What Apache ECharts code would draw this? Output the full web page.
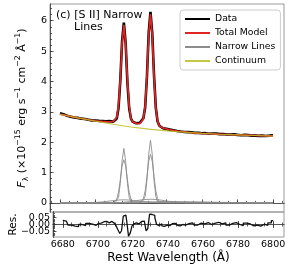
<!DOCTYPE html>
<html><head><meta charset="utf-8">
<script src="https://cdn.jsdelivr.net/npm/echarts@6/dist/echarts.min.js"></script>
<style>html,body{margin:0;padding:0;background:#fff}#c{width:291px;height:271px}</style>
</head><body><div id="c"></div>
<script>
// ---- data ----
const wave = [6680,6682,6684,6686,6688,6690,6692,6694,6696,6698,
  6700,6701,6702,6703,6704,6705,6706,6707,6708,6709,
  6710,6711,6712,6713,6714,6715,6716,6717,6718,6719,
  6720,6721,6722,6723,6724,6725,6726,6727,6728,6729,
  6730,6731,6732,6733,6734,6735,6736,6737,6738,6739,
  6740,6741,6742,6743,6744,6745,6746,6747,6748,6749,
  6750,6752,6754,6756,6758,6760,6762,6764,6766,6768,
  6770,6772,6774,6776,6778,6780,6782,6784,6786,6788,
  6790,6792,6794,6796,6798,6800];
const dataFlux = [2.950,2.921,2.867,2.838,2.812,2.800,2.774,2.763,2.740,2.717,
  2.712,2.709,2.702,2.705,2.698,2.700,2.689,2.692,2.693,2.679,
  2.675,2.691,2.778,3.136,4.028,5.324,5.935,5.276,3.971,3.116,
  2.776,2.668,2.641,2.625,2.630,2.635,2.663,2.785,3.149,4.154,
  5.614,6.293,5.584,4.193,3.132,2.678,2.540,2.480,2.457,2.446,
  2.437,2.415,2.413,2.395,2.392,2.372,2.370,2.350,2.351,2.351,
  2.334,2.331,2.326,2.305,2.306,2.294,2.296,2.278,2.280,2.281,
  2.265,2.266,2.250,2.254,2.256,2.240,2.230,2.240,2.232,2.216,
  2.216,2.206,2.214,2.204,2.214,2.228];
const modelFlux = [2.920,2.896,2.872,2.848,2.824,2.800,2.779,2.758,2.738,2.720,
  2.704,2.697,2.692,2.687,2.683,2.680,2.677,2.674,2.673,2.671,
  2.675,2.701,2.818,3.201,4.073,5.264,5.867,5.256,4.056,3.176,
  2.786,2.663,2.631,2.620,2.615,2.615,2.641,2.767,3.194,4.184,
  5.539,6.221,5.519,4.143,3.132,2.683,2.535,2.488,2.467,2.451,
  2.435,2.421,2.409,2.397,2.386,2.376,2.367,2.358,2.351,2.344,
  2.337,2.326,2.316,2.307,2.298,2.290,2.284,2.278,2.272,2.266,
  2.260,2.256,2.252,2.248,2.244,2.240,2.236,2.232,2.228,2.224,
  2.220,2.216,2.212,2.208,2.204,2.200];
const residual = [0.030,0.025,-0.005,-0.012,-0.015,0.000,-0.008,0.008,0.002,-0.006,
  0.008,0.015,0.010,0.020,0.015,0.022,0.012,0.020,0.022,0.008,
  0.000,-0.012,-0.040,-0.065,-0.045,0.060,0.068,0.020,-0.085,-0.060,
  -0.010,0.005,0.012,0.005,0.018,0.022,0.025,0.018,-0.045,-0.030,
  0.075,0.072,0.065,0.050,0.000,-0.008,0.006,-0.010,-0.014,-0.005,
  0.004,-0.008,0.006,-0.004,0.008,-0.006,0.004,-0.010,0.000,0.009,
  -0.004,0.006,0.012,-0.004,0.010,0.004,0.014,0.000,0.010,0.016,
  0.004,0.012,-0.004,0.008,0.014,0.000,-0.008,0.010,0.004,-0.010,
  -0.004,-0.012,0.002,-0.006,0.012,0.028];
const contWave = [6680,6690,6700,6710,6720,6730,6740,6750,6760,6770,6780,6790,6800];
const contFlux = [2.92,2.80,2.69,2.59,2.50,2.43,2.37,2.33,2.29,2.26,2.24,2.22,2.20];
// narrow-line components
const n1Wave = [6680,6711,6712,6713,6714,6715,6716,6717,6718,6719,6720,6721,6800];
const n1Flux = [0,0.003,0.030,0.181,0.644,1.387,1.790,1.387,0.644,0.181,0.030,0.003,0];
const m1Wave = [6680,6710,6711,6712,6713,6714,6715,6716,6717,6718,6719,6720,6721,6722,6800];
const m1Flux = [0,0.006,0.030,0.121,0.354,0.765,1.217,1.420,1.217,0.765,0.354,0.121,0.030,0.006,0];
const b1Wave = [6680,6692,6696,6700,6704,6706,6708,6710,6712,6714,6716,6718,6720,6722,6724,6726,6728,6732,6736,6740,6800];
const b1Flux = [0,0.001,0.004,0.014,0.033,0.046,0.061,0.076,0.088,0.097,0.100,0.097,0.088,0.076,0.061,0.046,0.033,0.014,0.004,0.001,0];
const n2Wave = [6680,6726,6727,6728,6729,6730,6731,6732,6733,6734,6735,6736,6800];
const n2Flux = [0,0.004,0.035,0.208,0.742,1.597,2.060,1.597,0.742,0.208,0.035,0.004,0];
const m2Wave = [6680,6725,6726,6727,6728,6729,6730,6731,6732,6733,6734,6735,6736,6737,6800];
const m2Flux = [0,0.006,0.034,0.136,0.398,0.862,1.371,1.600,1.371,0.862,0.398,0.136,0.034,0.006,0];
const b2Wave = [6680,6707,6711,6715,6719,6721,6723,6725,6727,6729,6731,6733,6735,6737,6739,6741,6743,6747,6751,6755,6800];
const b2Flux = [0,0.001,0.005,0.016,0.039,0.055,0.073,0.091,0.106,0.116,0.120,0.116,0.106,0.091,0.073,0.055,0.039,0.016,0.005,0.001,0];
// ticks
const xMajor = [6680,6700,6720,6740,6760,6780,6800];
const xMinor = [6675,6680,6685,6690,6695,6700,6705,6710,6715,6720,6725,6730,6735,6740,6745,6750,6755,6760,6765,6770,6775,6780,6785,6790,6795,6800,6805];
const yMajor = [0,1,2,3,4,5,6];
const yMinor = [-0.2,0,0.2,0.4,0.6,0.8,1,1.2,1.4,1.6,1.8,2,2.2,2.4,2.6,2.8,3,3.2,3.4,3.6,3.8,4,4.2,4.4,4.6,4.8,5,5.2,5.4,5.6,5.8,6,6.2,6.4];
const rMajor = [-0.05,0,0.05];
const rMinor = [-0.08,-0.07,-0.06,-0.05,-0.04,-0.03,-0.02,-0.01,0,0.01,0.02,0.03,0.04,0.05,0.06,0.07,0.08];

const zip = (a,b) => a.map((v,i)=>[v,b[i]]);
const FONT = 'DejaVu Sans';
const XMIN = 6674.4, XMAX = 6806.2;

function xAx(grid, pos, ticks, len, labels){
  return {type:'value', gridIndex:grid, position:pos, min:XMIN, max:XMAX,
    axisLine:{show:pos==='bottom', lineStyle:{color:'#555',width:1}},
    axisTick:{show:true, inside:true, length:len, customValues:ticks, lineStyle:{color:'#333',width:0.8}},
    axisLabel:{show:!!labels, customValues:ticks, margin:3, fontSize:9.5, fontFamily:FONT, color:'#000',
      hideOverlap:false, formatter:v=>String(Math.round(v))},
    splitLine:{show:false}};
}
function yAx(grid, min, max, ticks, len, labels, fmt){
  return {type:'value', gridIndex:grid, position:'left', min:min, max:max,
    axisLine:{show:true, lineStyle:{color:'#555',width:1}},
    axisTick:{show:len>0, inside:true, length:len, customValues:ticks, lineStyle:{color:'#333',width:0.8}},
    axisLabel:{show:!!labels, customValues:ticks, margin:3, fontSize:9.5, fontFamily:FONT, color:'#000',
      hideOverlap:false, formatter:fmt},
    splitLine:{show:false}};
}
const resFmt = v=>Math.abs(v)<1e-9?'0.00':(v<0?'−':'')+Math.abs(v).toFixed(2);

const yMain = yAx(0,-0.3,6.55,yMajor,3.5,true,v=>String(Math.round(v)));
yMain.name = '{it|F}{sub|λ} (×10{sup|−15} erg s{sup|−1} cm{sup|−2} Å{sup|−1})';
yMain.nameLocation = 'middle';
yMain.nameGap = 6;
yMain.nameTextStyle = {fontSize:11, fontFamily:FONT, color:'#000', lineHeight:16,
  rich:{it:{fontStyle:'italic', fontSize:11, fontFamily:FONT, color:'#000'},
        sub:{fontSize:7.8, verticalAlign:'bottom', lineHeight:9, fontFamily:FONT, color:'#000'},
        sup:{fontSize:7.8, verticalAlign:'top', lineHeight:9, fontFamily:FONT, color:'#000'}}};

const yRes = yAx(1,-0.09,0.09,rMajor,3.5,false);
yRes.name = 'Res.'; yRes.nameLocation='middle'; yRes.nameGap=34;
yRes.nameTextStyle = {fontSize:10.5, fontFamily:FONT, color:'#000'};
const yResL1 = yAx(1,-0.09,0.09,[0.05],0,true,resFmt);
const yResL2 = yAx(1,-0.09,0.09,[0],0,true,resFmt);
const yResL3 = yAx(1,-0.09,0.09,[-0.05],0,true,resFmt);

const xRes = xAx(1,'bottom',xMajor,3.5,true);
xRes.name = 'Rest Wavelength (Å)'; xRes.nameLocation='middle'; xRes.nameGap=15;
xRes.nameTextStyle = {fontSize:12, fontFamily:FONT, color:'#000'};

const grayLine = {color:'#8c8c8c', width:0.9};
function comp(w,f){ return {name:'Narrow Lines', type:'line', xAxisIndex:0, yAxisIndex:0, data:zip(w,f),
  symbol:'none', lineStyle:grayLine, itemStyle:{color:'#8c8c8c'}, silent:true}; }

const option = {
  animation:false,
  textStyle:{fontFamily:FONT},
  grid:[{left:50,top:4,width:234,height:208,show:true,borderColor:'#999',borderWidth:1,backgroundColor:'rgba(0,0,0,0)'},
        {left:50,top:212,width:234,height:25,show:true,borderColor:'#999',borderWidth:1,backgroundColor:'rgba(0,0,0,0)'}],
  title:[{text:'(c) [S II] Narrow', left:56, top:10, padding:0, textStyle:{fontSize:11,fontWeight:'normal',color:'#000',fontFamily:FONT}},
         {text:'Lines', left:74, top:22, padding:0, textStyle:{fontSize:11,fontWeight:'normal',color:'#000',fontFamily:FONT}}],
  legend:{orient:'vertical', left:180, top:10, itemWidth:25, itemHeight:12, itemGap:2, padding:[3,5,3,4],
    borderColor:'#ccc', borderWidth:1, borderRadius:3, backgroundColor:'rgba(255,255,255,0.85)',
    itemStyle:{color:'rgba(0,0,0,0)', borderColor:'rgba(0,0,0,0)', borderWidth:0, opacity:0},
    textStyle:{fontSize:9.3, fontFamily:FONT, color:'#000', lineHeight:12},
    data:['Data','Total Model','Narrow Lines','Continuum']},
  xAxis:[xAx(0,'bottom',xMajor,3.5), xAx(0,'bottom',xMinor,2), xRes, xAx(1,'bottom',xMinor,2),
         xAx(1,'top',xMajor,3.5), xAx(1,'top',xMinor,2)],
  yAxis:[yMain, yAx(0,-0.3,6.55,yMinor,2,false), yRes, yAx(1,-0.09,0.09,rMinor,2,false), yResL1, yResL2, yResL3],
  series:[
    comp(n1Wave,n1Flux), comp(m1Wave,m1Flux), comp(b1Wave,b1Flux),
    comp(n2Wave,n2Flux), comp(m2Wave,m2Flux), comp(b2Wave,b2Flux),
    {name:'Data', type:'line', xAxisIndex:0, yAxisIndex:0, data:zip(wave,dataFlux), symbol:'none',
      lineStyle:{color:'#000', width:2.6}, itemStyle:{color:'#000'}},
    {name:'Total Model', type:'line', xAxisIndex:0, yAxisIndex:0, data:zip(wave,modelFlux), symbol:'none',
      lineStyle:{color:'#e02424', width:1.7}, itemStyle:{color:'#e02424'}},
    {name:'Continuum', type:'line', xAxisIndex:0, yAxisIndex:0, data:zip(contWave,contFlux), symbol:'none',
      lineStyle:{color:'#bcbd22', width:1.2, opacity:0.85}, itemStyle:{color:'#bcbd22'}},
    {name:'Residual', type:'line', xAxisIndex:2, yAxisIndex:2, data:zip(wave,residual), symbol:'none', step:'middle',
      lineStyle:{color:'#111', width:1.3}, itemStyle:{color:'#111'}}
  ]
};
const chart = echarts.init(document.getElementById('c'), null, {renderer:'canvas'});
chart.setOption(option);
</script></body></html>
